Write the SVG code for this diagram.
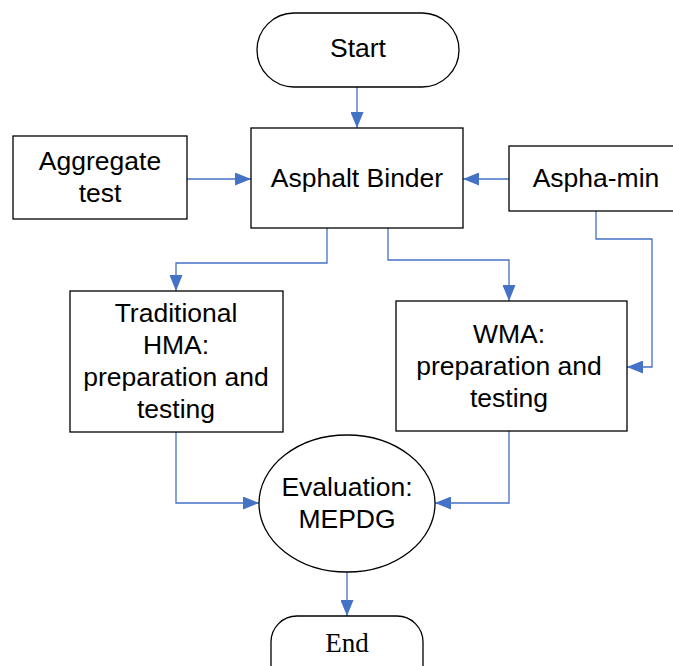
<svg xmlns="http://www.w3.org/2000/svg" width="673" height="666" viewBox="0 0 673 666">
<style>
.n{fill:#fff;stroke:#000;stroke-width:1.3}
.t{font-family:"Liberation Sans",Arial,sans-serif;font-size:26.5px;text-anchor:middle;fill:#000}
.s{font-family:"Liberation Serif","Times New Roman",serif;font-size:27px;text-anchor:middle;fill:#000}
.c{fill:none;stroke:#4472C4;stroke-width:1.3}
</style>
<defs>
<marker id="a" markerWidth="16" markerHeight="13" refX="16" refY="6.5" orient="auto" markerUnits="userSpaceOnUse">
<path d="M0,0 L16,6.5 L0,13 Z" fill="#4472C4"/>
</marker>
</defs>
<rect width="673" height="666" fill="#fff"/>
<g id="connectors">
<path class="c" d="M357,87 V128" marker-end="url(#a)"/>
<path class="c" d="M187,179 H251" marker-end="url(#a)"/>
<path class="c" d="M509,179 H463" marker-end="url(#a)"/>
<path class="c" d="M327,228 V263 H176 V291" marker-end="url(#a)"/>
<path class="c" d="M388,228 V260 H509 V301" marker-end="url(#a)"/>
<path class="c" d="M596,211 V239 H652 V367 H627" marker-end="url(#a)"/>
<path class="c" d="M176,432 V503 H259" marker-end="url(#a)"/>
<path class="c" d="M509,431 V503 H435" marker-end="url(#a)"/>
<path class="c" d="M347,572 V616" marker-end="url(#a)"/>
</g>
<g id="start">
<rect class="n" x="257" y="13" width="202" height="74" rx="37" ry="37"/>
<text class="t" x="358" y="57">Start</text>
</g>
<g id="binder">
<rect class="n" x="251" y="128" width="212" height="100"/>
<text class="t" x="357" y="187">Asphalt Binder</text>
</g>
<g id="aggregate">
<rect class="n" x="13" y="136" width="174" height="83"/>
<text class="t" x="100" y="170">Aggregate</text>
<text class="t" x="100" y="202">test</text>
</g>
<g id="asphamin">
<rect class="n" x="509" y="146" width="175" height="65"/>
<text class="t" x="596" y="187">Aspha-min</text>
</g>
<g id="hma">
<rect class="n" x="70" y="291" width="213" height="141"/>
<text class="t" x="176" y="322">Traditional</text>
<text class="t" x="176" y="354">HMA:</text>
<text class="t" x="176" y="386">preparation and</text>
<text class="t" x="176" y="418">testing</text>
</g>
<g id="wma">
<rect class="n" x="396" y="301" width="231" height="130"/>
<text class="t" x="509" y="343">WMA:</text>
<text class="t" x="509" y="375">preparation and</text>
<text class="t" x="509" y="407">testing</text>
</g>
<g id="evaluation">
<ellipse class="n" cx="347" cy="503.5" rx="88" ry="68.5"/>
<text class="t" x="347" y="496">Evaluation:</text>
<text class="t" x="347" y="528">MEPDG</text>
</g>
<g id="end">
<rect class="n" x="271" y="616" width="152" height="80" rx="26" ry="26"/>
<text class="s" x="347" y="652">End</text>
</g>
</svg>
